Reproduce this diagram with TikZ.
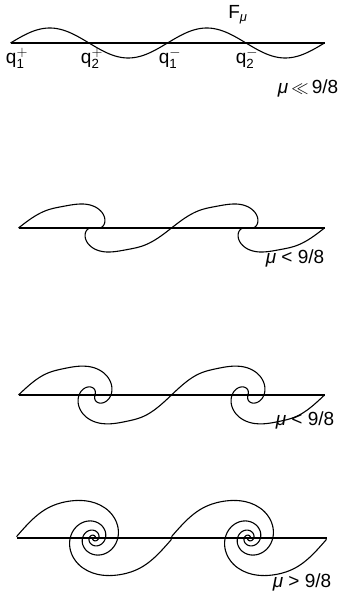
\documentclass[tikz,border=0pt]{standalone}
\usepackage{fontspec}
\setmainfont{Liberation Sans}

\tikzset{
  axisln/.style={line width=1.7pt},
  wave/.style={line width=1.1pt, line join=round},
  lbl/.style={font=\fontsize{19}{22}\selectfont, inner sep=0pt},
  declare function={
    wbx(\t)=\wvL*\t;
    wby(\t)=-\wvA*sin(180*\t);
    wrd(\t)=veclen(wbx(\t),wby(\t));
    wlg(\t)=wrd(\t)/\wvT+\wvE;
    wtw(\t)=\wvK*exp(-min((wrd(\t)/\wvS)^2,9))+\wvM*(ln(1+wlg(\t)^6)-6*ln(wlg(\t)));
    wph(\t)=atan2(wby(\t),wbx(\t))-wtw(\t);
  },
}

\begin{document}
\begin{tikzpicture}[x=1pt,y=1pt]
\useasboundingbox (0,0) rectangle (343,598);
% ================= panels: axis and folded curve =================
\foreach \i/\wvY/\wvC/\wvL/\wvA/\wvK/\wvS/\wvM/\wvT/\wvE in {1/555/89/78.5/15/0/1000/0/1000/1, 2/370/95/76.5/19/150/21/0/1000/1, 3/203/95/76.5/23/237/21.6/0/1000/1, 4/60/94/77.5/27/0/1000/50/42/0.08}{
  \coordinate (ax\i w) at (\wvC-\wvL,\wvY);
  \coordinate (ax\i e) at (\wvC+3*\wvL,\wvY);
  \draw[axisln] (ax\i w) -- (ax\i e);
  \foreach \vc in {\wvC, \wvC+2*\wvL}{
    \draw[wave, shift={(\vc,\wvY)}] plot[variable=\t, domain=-1:-0.3, samples=40] ({wph(\t)}:{wrd(\t)})
      -- plot[variable=\t, domain=-0.3:0.3, samples=360] ({wph(\t)}:{wrd(\t)})
      -- plot[variable=\t, domain=0.3:1, samples=40] ({wph(\t)}:{wrd(\t)});}
}
% ================= labels =================
\node[lbl] (q1p) at (17,540) {$\mathrm{q}^{+}_{\mathrm{1}}$};
\node[lbl] (q2p) at (92,540) {$\mathrm{q}^{+}_{\mathrm{2}}$};
\node[lbl] (q1m) at (170,540) {$\mathrm{q}^{-}_{\mathrm{1}}$};
\node[lbl] (q2m) at (247,540) {$\mathrm{q}^{-}_{\mathrm{2}}$};
\node[lbl] (fmu) at (238,583) {F$_{\mbox{\fontsize{13}{14}\selectfont\itshape μ}}$};
\node[lbl] (mu1) at (308,510) {\textit{μ}\,$\ll$\,9/8};
\node[lbl] (mu2) at (295,340) {\textit{μ} < 9/8};
\node[lbl] (mu3) at (305,178) {\textit{μ} < 9/8};
\node[lbl] (mu4) at (302,16) {\textit{μ} > 9/8};
\end{tikzpicture}
\end{document}
